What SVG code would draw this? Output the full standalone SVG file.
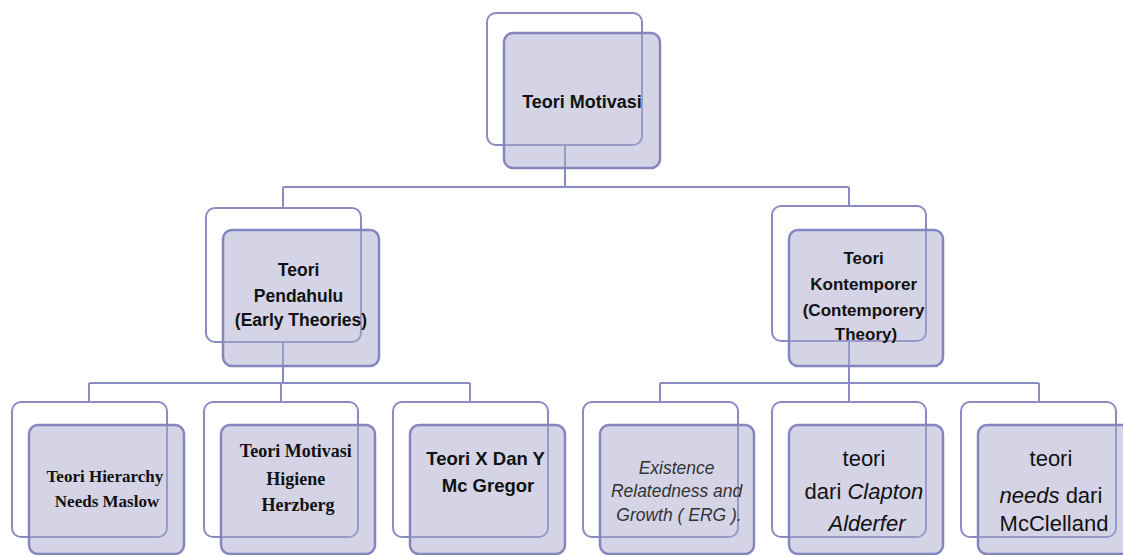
<svg xmlns="http://www.w3.org/2000/svg" width="1123" height="555" viewBox="0 0 1123 555">
  <style>
    .back { fill: none; stroke: #8b8bc3; stroke-width: 2; }
    .front { fill: rgba(170,170,205,0.5); stroke: #8585c0; stroke-width: 2.5; }
    .link { fill: none; stroke: #8b8bc3; stroke-width: 2; }
    .sb { font-family: "Liberation Sans", Arial, sans-serif; font-weight: bold; fill: #111; text-anchor: middle; }
    .tb { font-family: "Liberation Serif", "Times New Roman", serif; font-weight: bold; fill: #111; text-anchor: middle; }
    .sr { font-family: "Liberation Sans", Arial, sans-serif; fill: #111; text-anchor: middle; }
    .it { font-style: italic; }
  </style>

  <!-- tree connectors -->
  <g id="connectors" class="link">
    <path d="M565 145 V187 M283 187 H849 M283 187 V208 M849 187 V206"/>
    <path d="M283 342 V383 M89 383 H470 M89 383 V402 M281 383 V402 M470 383 V402"/>
    <path d="M849 341 V383 M660 383 H1039 M660 383 V402 M849 383 V402 M1039 383 V402"/>
  </g>

  <g id="teori-motivasi">
    <rect class="back" x="487" y="13" width="155" height="132" rx="9"/>
    <rect class="front" x="504" y="33" width="156" height="135" rx="9"/>
    <text class="sb" x="582" y="108" font-size="18">Teori Motivasi</text>
  </g>

  <g id="teori-pendahulu">
    <rect class="back" x="206" y="208" width="155" height="134" rx="9"/>
    <rect class="front" x="223" y="230" width="156" height="136" rx="9"/>
    <text class="sb" x="301" font-size="17.5">
      <tspan x="301" y="276">Teori</tspan>
      <tspan x="301" y="302">Pendahulu</tspan>
      <tspan x="301" y="326">(Early Theories)</tspan>
    </text>
  </g>

  <g id="teori-kontemporer">
    <rect class="back" x="772" y="206" width="154" height="135" rx="9"/>
    <rect class="front" x="789" y="230" width="154" height="136" rx="9"/>
    <text class="sb" x="866" font-size="17">
      <tspan x="866" y="264">Teori</tspan>
      <tspan x="866" y="290">Kontemporer</tspan>
      <tspan x="866" y="316">(Contemporery</tspan>
      <tspan x="866" y="340">Theory)</tspan>
    </text>
  </g>

  <g id="hierarchy-maslow">
    <rect class="back" x="12" y="402" width="155" height="135" rx="9"/>
    <rect class="front" x="29" y="425" width="155" height="129" rx="9"/>
    <text class="tb" x="107" font-size="17">
      <tspan x="107" y="482">Teori Hierarchy</tspan>
      <tspan x="107" y="507">Needs Maslow</tspan>
    </text>
  </g>

  <g id="higiene-herzberg">
    <rect class="back" x="204" y="402" width="154" height="135" rx="9"/>
    <rect class="front" x="221" y="425" width="154" height="129" rx="9"/>
    <text class="tb" x="298" font-size="18">
      <tspan x="298" y="457">Teori Motivasi</tspan>
      <tspan x="298" y="485">Higiene</tspan>
      <tspan x="298" y="511">Herzberg</tspan>
    </text>
  </g>

  <g id="x-dan-y">
    <rect class="back" x="393" y="402" width="155" height="135" rx="9"/>
    <rect class="front" x="410" y="425" width="155" height="129" rx="9"/>
    <text class="sb" x="488" font-size="18.5">
      <tspan x="488" y="465">Teori X Dan Y</tspan>
      <tspan x="488" y="492">Mc Gregor</tspan>
    </text>
  </g>

  <g id="erg">
    <rect class="back" x="583" y="402" width="155" height="135" rx="9"/>
    <rect class="front" x="600" y="425" width="154" height="129" rx="9"/>
    <text class="sr it" x="679" font-size="17.5" fill="#333" style="fill:#333">
      <tspan x="679" y="474">Existence</tspan>
      <tspan x="679" y="497">Relatedness and</tspan>
      <tspan x="679" y="521">Growth ( ERG ).</tspan>
    </text>
  </g>

  <g id="clapton-alderfer">
    <rect class="back" x="772" y="402" width="154" height="135" rx="9"/>
    <rect class="front" x="789" y="425" width="154" height="129" rx="9"/>
    <text class="sr" x="867" font-size="22">
      <tspan x="867" y="466">teori</tspan>
      <tspan x="867" y="499">dari <tspan class="it">Clapton</tspan></tspan>
      <tspan x="867" y="531" class="it">Alderfer</tspan>
    </text>
  </g>

  <g id="needs-mcclelland">
    <rect class="back" x="961" y="402" width="155" height="135" rx="9"/>
    <rect class="front" x="978" y="425" width="155" height="129" rx="9"/>
    <text class="sr" x="1054" font-size="22">
      <tspan x="1054" y="466">teori</tspan>
      <tspan x="1054" y="503"><tspan class="it">needs</tspan> dari</tspan>
      <tspan x="1054" y="531">McClelland</tspan>
    </text>
  </g>
</svg>
